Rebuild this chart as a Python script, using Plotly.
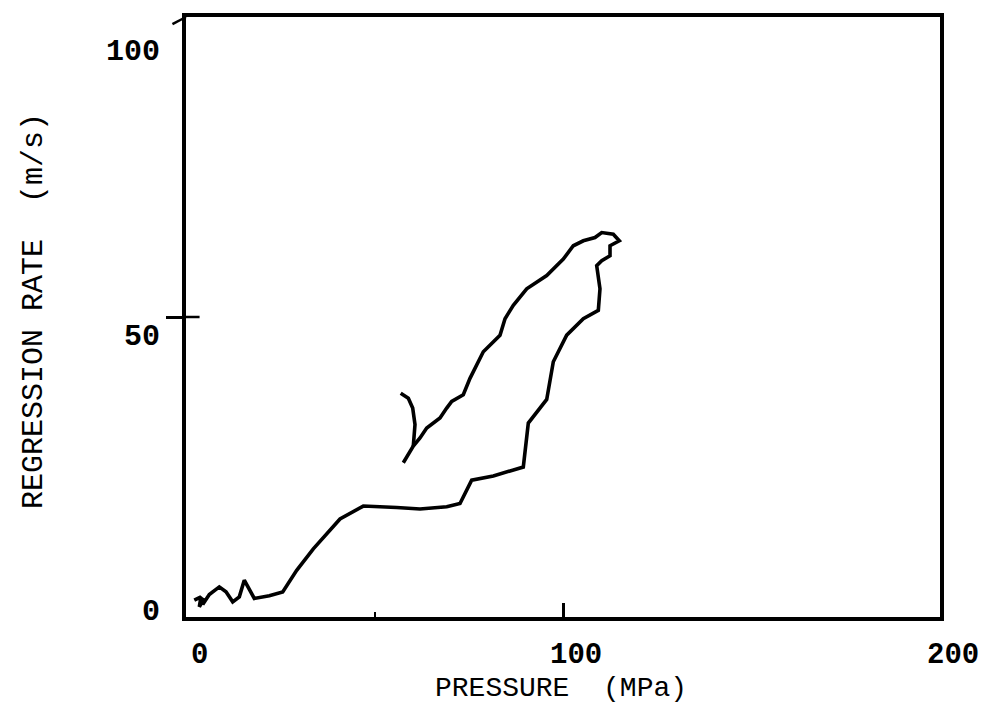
import plotly.graph_objects as go

# Main curve: pressure (MPa) vs regression rate (m/s)
pressure = [2.20, 3.98, 3.53, 4.85, 4.43, 6.18, 8.83, 10.61, 12.39, 14.14, 15.46, 16.79,
            18.12, 22.10, 25.65, 29.36, 33.77, 40.85, 47.03, 55.89, 62.07, 69.15, 72.68,
            75.78, 81.51, 89.47, 90.80, 95.68, 97.43, 100.98, 105.39, 109.37, 109.81,
            108.94, 110.27, 112.47, 112.47, 114.93, 113.34, 110.27, 108.49, 105.39,
            102.73, 100.08, 95.68, 90.37, 86.82, 84.62, 83.29, 78.86, 75.33, 73.55,
            70.48, 69.15, 67.37, 63.85, 62.07, 60.29, 57.64]
regression = [2.81, 3.36, 1.71, 3.10, 2.10, 3.76, 5.02, 4.19, 2.53, 3.36, 6.13, 4.47,
              3.10, 3.53, 4.19, 7.78, 11.37, 16.34, 18.49, 18.26, 18.00, 18.38, 18.92,
              22.80, 23.51, 25.00, 32.33, 36.26, 42.55, 46.97, 49.72, 51.11, 54.69,
              58.56, 59.39, 60.22, 61.87, 62.70, 63.79, 64.07, 63.24, 62.70,
              61.87, 59.65, 56.90, 54.69, 51.94, 49.72, 46.97, 44.20, 39.78, 37.04,
              35.93, 34.82, 33.16, 31.51, 29.85, 28.48, 25.71]

# Hook branch at end
hook_pressure = [60.29, 60.74, 60.13, 58.97, 56.95]
hook_regression = [28.48, 32.07, 34.82, 36.47, 37.30]

x_tick_vals = [0, 100, 200]
x_tick_text = ["0", "100", "200"]
y_tick_vals = [0, 50, 100]
y_tick_text = ["0", "50", "100"]

x_title = "PRESSURE  (MPa)"
y_title = "REGRESSION RATE  (m/s)"

FONT = "Liberation Mono, DejaVu Sans Mono, monospace"

fig = go.Figure()
line_style = dict(color="black", width=3.6)
fig.add_trace(go.Scatter(x=pressure, y=regression, mode="lines", line=line_style,
                         hoverinfo="skip", showlegend=False))
fig.add_trace(go.Scatter(x=hook_pressure, y=hook_regression, mode="lines", line=line_style,
                         hoverinfo="skip", showlegend=False))

fig.update_xaxes(range=[0, 200], showline=True, linecolor="black", linewidth=4, mirror=True,
                 showgrid=False, zeroline=False, showticklabels=False,
                 tickvals=[100], ticks="inside", ticklen=14, tickwidth=2.5, tickcolor="black",
                 minor=dict(tickvals=[50], ticks="inside", ticklen=5, tickwidth=2, tickcolor="black"))
fig.update_yaxes(range=[0, 100], showline=True, linecolor="black", linewidth=4, mirror=True,
                 showgrid=False, zeroline=False, showticklabels=False,
                 tickvals=[50], ticks="outside", ticklen=16, tickwidth=2.5, tickcolor="black")

# inner half of the crossing tick at 50 and top-left flourish
fig.add_shape(type="line", xref="x domain", yref="y", x0=0, x1=0.018, y0=50, y1=50,
              line=dict(color="black", width=2.5))
fig.add_shape(type="line", xref="x domain", yref="y domain", x0=-0.018, x1=0, y0=0.988, y1=1.0,
              line=dict(color="black", width=2.5))

annotations = []
for v, t in zip(x_tick_vals, x_tick_text):
    annotations.append(dict(x=v, y=0, xref="x", yref="y", text=t, showarrow=False,
                            xanchor="center", yanchor="middle", xshift=13, yshift=-38,
                            font=dict(family=FONT, size=29, color="black", weight="bold")))
y_shifts = [5, -20, -35]
for v, t, s in zip(y_tick_vals, y_tick_text, y_shifts):
    annotations.append(dict(x=0, y=v, xref="x", yref="y", text=t, showarrow=False,
                            xanchor="right", yanchor="middle", xshift=-24, yshift=s,
                            font=dict(family=FONT, size=30, color="black", weight="bold")))
annotations.append(dict(x=0.497, y=0, xref="paper", yref="paper", text=x_title, showarrow=False,
                        xanchor="center", yanchor="middle", yshift=-71,
                        font=dict(family=FONT, size=28, color="black")))
annotations.append(dict(x=0, y=0.51, xref="paper", yref="paper", text=y_title, showarrow=False,
                        xanchor="center", yanchor="middle", xshift=-152, textangle=-90,
                        font=dict(family=FONT, size=30, color="black")))

fig.update_layout(width=989, height=726, margin=dict(l=178, r=57, t=5, b=117),
                  paper_bgcolor="white", plot_bgcolor="white", annotations=annotations)

fig.write_html("out.html")
